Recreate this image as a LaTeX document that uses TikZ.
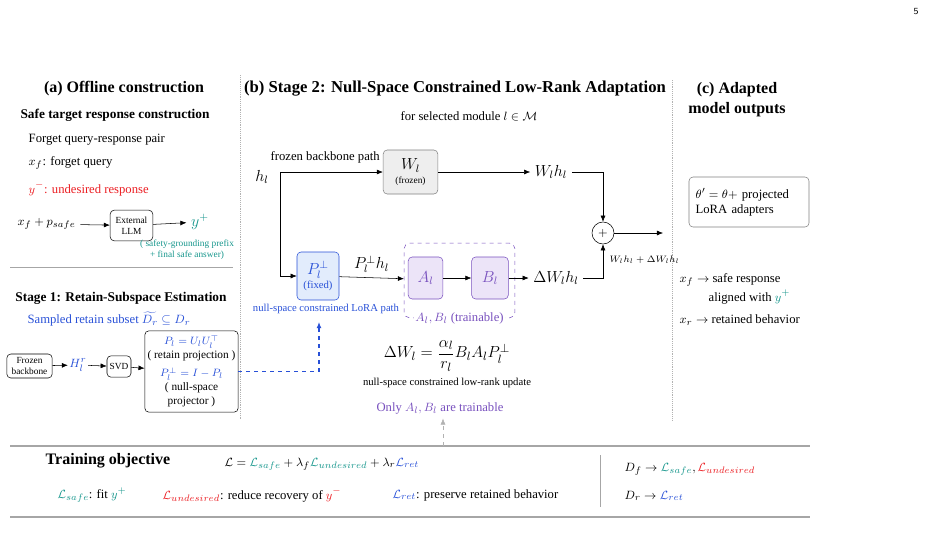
\documentclass[tikz,border=0pt]{standalone}
\usepackage{amsmath,amssymb}
\usepackage{fontspec}
\setmainfont{Liberation Serif}
\usetikzlibrary{arrows.meta, positioning, calc}
\definecolor{tealc}{RGB}{22,150,140}
\definecolor{redc}{RGB}{235,30,35}
\definecolor{bluec}{RGB}{40,80,215}
\definecolor{purc}{RGB}{120,80,190}
\definecolor{purfill}{RGB}{236,228,248}
\definecolor{bluefill}{RGB}{226,236,252}
\definecolor{grayfill}{RGB}{238,238,238}
\tikzset{
  box/.style={draw, rounded corners=3pt, align=center, inner sep=1.5pt},
  arr/.style={-{Latex[length=1.6mm,width=1.3mm]}},
  ttl/.style={font=\fontsize{12}{15}\selectfont\bfseries},
  subttl/.style={font=\fontsize{10}{12}\selectfont\bfseries},
  sm/.style={font=\fontsize{7}{8.5}\selectfont},
  note/.style={font=\fontsize{8}{9.5}\selectfont},
}

\begin{document}
\begin{tikzpicture}[x=0.75pt, y=-0.75pt, font=\fontsize{9.5}{11}\selectfont]
    \useasboundingbox (0,0) rectangle (932,554);
    \node[font=\sffamily\fontsize{7}{8}\selectfont] (pg) at (916,12) {5};
    % 分隔线
    \draw[gray!60, densely dotted] (240,75) -- (240,420);
    \draw[gray!60, densely dotted] (672,80) -- (672,420);
    % (a) 离线构造
    \node[ttl] (ta) at (124,89) {(a) Offline construction};
    \node[subttl] (tsafe) at (115,115) {Safe target response construction};
    \node[anchor=west] (fpair) at (24,140) {Forget query-response pair};
    \node[anchor=west] (fq) at (24,163) {$x_f$: forget query};
    \node[anchor=west, text=redc] (yneg) at (24,189) {$y^-$: undesired response};
    \node[anchor=west] (xfp) at (13,224) {$x_f + p_{safe}$};
    \node[box, sm, minimum width=32pt, minimum height=23pt] (llm) at (131.5,225.5) {External\\LLM};
    \node[text=tealc, font=\large] (yplus) at (200,222) {$y^+$};
    \node[sm, text=tealc, align=center] (ynote) at (187,250) {( safety-grounding prefix\\+ final safe answer)};
    \draw[arr] (xfp) -- (llm);
    \draw[arr] (llm) -- (yplus);
    \draw[gray!70] (10,267) -- (233,267);
    % Stage 1
    \node[subttl] (ts1) at (121,298) {Stage 1: Retain-Subspace Estimation};
    \node[anchor=west, text=bluec, inner sep=1pt] (samp) at (26,319) {Sampled retain subset $\widetilde{D_r}\subseteq D_r$};
    \node[box, sm, minimum width=34pt, minimum height=18pt] (frz) at (29.5,366) {Frozen\\backbone};
    \node[text=bluec, inner sep=1pt] (hr) at (78,365) {$H_l^r$};
    \node[box, sm, minimum width=18pt, minimum height=16pt] (svd) at (119,366.5) {SVD};
    \node[box, minimum width=70pt, minimum height=61pt, font=\fontsize{8.5}{10.5}\selectfont] (proj) at (191.5,371.5)
        {\textcolor{bluec}{$P_l = U_lU_l^\top$}\\( retain projection )\\[3pt]\textcolor{bluec}{$P_l^\perp = I - P_l$}\\( null-space\\projector )};
    \draw[arr] (frz) -- (hr);
    \draw[arr] (hr) -- (svd);
    \draw[arr] (svd) -- (proj);
    % (b) 零空间约束低秩适配
    \node[font=\fontsize{12.5}{15}\selectfont\bfseries] (tb) at (455,89) {(b) Stage 2: Null-Space Constrained Low-Rank Adaptation};
    \node (sel) at (469,116) {for selected module $l\in\mathcal{M}$};
    \node[anchor=west] (fbp) at (266,157) {frozen backbone path};
    \node[font=\large] (hl) at (262,177) {$h_l$};
    \coordinate (split) at (280,172);
    \node[box, fill=grayfill, draw=gray, minimum width=41pt, minimum height=33pt] (W) at (410.5,172)
        {{\large $W_l$}\\[-1pt]{\fontsize{7}{8}\selectfont (frozen)}};
    \node[font=\large] (Whl) at (551,172) {$W_lh_l$};
    \node[draw, circle, minimum size=16.5pt, inner sep=0pt] (plus) at (603,233) {$+$};
    \coordinate (out) at (663,233);
    \node[box, fill=bluefill, draw=bluec, text=bluec, minimum width=31.5pt, minimum height=36pt] (P) at (318,276)
        {{\large $P_l^\perp$}\\{\fontsize{8}{9}\selectfont (fixed)}};
    \node[note, text=bluec] (lora) at (326,309) {null-space constrained LoRA path};
    \coordinate (ptip) at (319,322);
    \node[draw=purc, dashed, rounded corners=4pt, minimum width=83pt, minimum height=56pt] (lr) at (459.5,280.5) {};
    \node[box, fill=purfill, draw=purc, text=purc, minimum width=26pt, minimum height=31.5pt, font=\large] (A) at (425.5,278) {$A_l$};
    \node[box, fill=purfill, draw=purc, text=purc, minimum width=27.5pt, minimum height=31.5pt, font=\large] (B) at (490,278) {$B_l$};
    \node[fill=white, text=purc, inner sep=1pt] (train) at (lr.south) {$A_l, B_l$ (trainable)};
    \node[font=\large] (dWh) at (556,278) {$\Delta W_lh_l$};
    \node[sm, anchor=west] (sumlbl) at (605,260) {$W_lh_l + \Delta W_lh_l$};
    \draw[arr] (split) -- (W);
    \draw[arr] (split) |- (P);
    \draw[arr] (W) -- (Whl);
    \draw[arr] (Whl) -| (plus);
    \draw[arr] (plus) -- (out);
    \draw[arr] (P) -- node[above, font=\large] (pperp) {$P_l^\perp h_l$} (lr);
    \draw[arr] (A) -- (B);
    \draw[arr] (B) -- (dWh);
    \draw[arr] (dWh) -| (plus);
    \draw[arr, bluec, dashed, thick] (proj) -| (ptip);
    \node[font=\fontsize{13}{15}\selectfont] (upd) at (447,356) {$\Delta W_l = \dfrac{\alpha_l}{r_l} B_lA_lP_l^\perp$};
    \node[note] (updl) at (447,383) {null-space constrained low-rank update};
    \node[text=purc] (only) at (440,408) {Only $A_l, B_l$ are trainable};
    % (c) 输出
    \node[ttl, align=center] (tc) at (737,100) {(c) Adapted\\model outputs};
    \node[box, draw=gray, align=left, text width=80pt, inner xsep=5pt, minimum height=37.5pt] (theta) at (749,202)
        {$\theta' = \theta +$ projected\\LoRA adapters};
    \node[anchor=west] (xf) at (675,280) {$x_f\to$ safe response};
    \node[anchor=west] (al) at (704,297) {aligned with \textcolor{tealc}{$y^+$}};
    \node[anchor=west] (xr) at (675,320) {$x_r\to$ retained behavior};
    % 训练目标
    \draw[gray!70, thick] (10,446) -- (810,446);
    \draw[gray!70, thick] (10,517) -- (810,517);
    \draw[gray!70] (600,455) -- (600,507);
    \coordinate (objtop) at (443,446);
    \draw[arr, gray!60, dashed] (objtop) -- (objtop |- only.south);
    \node[font=\fontsize{12}{14}\selectfont\bfseries, anchor=west] (tobj) at (41,461) {Training objective};
    \node[anchor=west] (lossall) at (220,464) {$\mathcal{L} = \textcolor{tealc}{\mathcal{L}_{safe}} + \lambda_f \textcolor{tealc}{\mathcal{L}_{undesired}} + \lambda_r \textcolor{bluec}{\mathcal{L}_{ret}}$};
    \node[anchor=west] (lsafe) at (53,495) {\textcolor{tealc}{$\mathcal{L}_{safe}$}: fit \textcolor{tealc}{$y^+$}};
    \node[anchor=west] (lund) at (158,495) {\textcolor{redc}{$\mathcal{L}_{undesired}$}: reduce recovery of \textcolor{redc}{$y^-$}};
    \node[anchor=west] (lret) at (388,495) {\textcolor{bluec}{$\mathcal{L}_{ret}$}: preserve retained behavior};
    \node[anchor=west] (df) at (620,469) {$D_f\to\textcolor{tealc}{\mathcal{L}_{safe}}, \textcolor{redc}{\mathcal{L}_{undesired}}$};
    \node[anchor=west] (dr) at (620,496) {$D_r\to\textcolor{bluec}{\mathcal{L}_{ret}}$};
\end{tikzpicture}
\end{document}
